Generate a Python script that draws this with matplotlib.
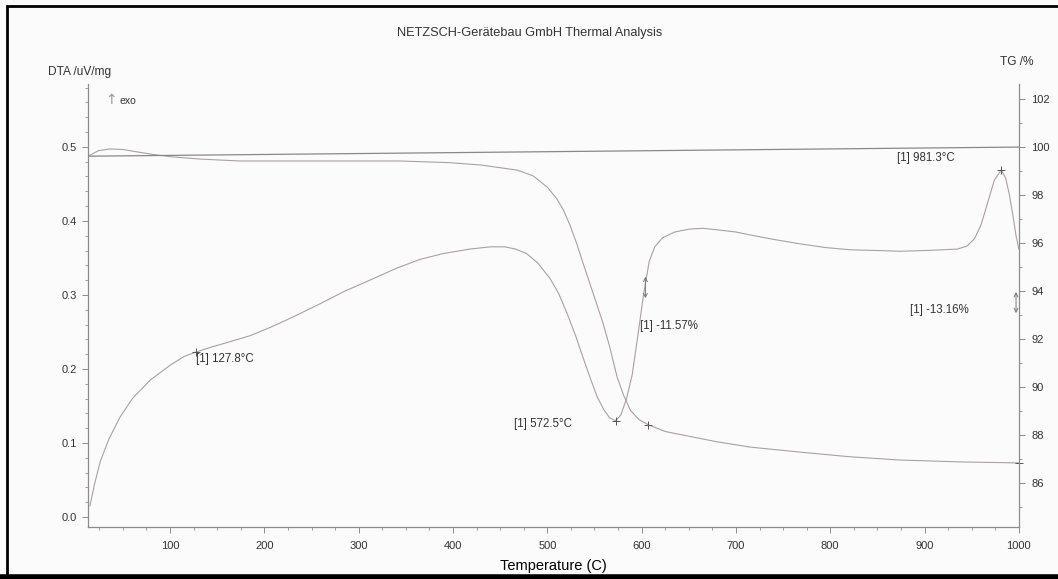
import matplotlib
matplotlib.use("Agg")
import matplotlib.pyplot as plt
from matplotlib.ticker import MultipleLocator
from matplotlib.patches import Rectangle
from matplotlib.lines import Line2D

plt.rcParams['font.family'] = ['Liberation Sans', 'DejaVu Sans']

# DTA signal (uV/mg) against temperature (C)
dta_temp = [15, 20, 26, 35, 47, 60, 79, 100, 115, 127.8, 145, 164, 185, 206, 230,
            259, 285, 312, 340, 365, 390, 418, 440, 455, 466, 478, 490, 503, 512,
            521, 530, 538, 546, 553, 560, 566, 572.5, 578, 584, 590, 596, 602, 608,
            614, 622, 635, 651, 665, 680, 700, 715, 740, 768, 795, 821, 850, 874,
            900, 920, 935, 945, 953, 960, 967, 974, 981.3, 986, 990, 994, 997, 1000]
dta_val = [0.015, 0.045, 0.075, 0.105, 0.135, 0.160, 0.185, 0.205, 0.217, 0.223,
           0.230, 0.237, 0.245, 0.256, 0.270, 0.288, 0.305, 0.320, 0.336, 0.348,
           0.356, 0.362, 0.365, 0.365, 0.362, 0.356, 0.343, 0.322, 0.302, 0.275,
           0.245, 0.215, 0.186, 0.162, 0.145, 0.134, 0.130, 0.138, 0.160, 0.192,
           0.245, 0.300, 0.345, 0.365, 0.377, 0.385, 0.389, 0.390, 0.388, 0.385,
           0.381, 0.375, 0.369, 0.364, 0.361, 0.360, 0.359, 0.360, 0.361, 0.362,
           0.366, 0.376, 0.395, 0.425, 0.455, 0.469, 0.458, 0.435, 0.405, 0.380,
           0.362]

# TG mass (%) against temperature (C)
tg_temp = [13, 24, 36, 50, 65, 79, 100, 132, 174, 238, 300, 344, 397, 430, 468,
           485, 500, 510, 517, 524, 531, 538, 545, 552, 559, 566, 574, 581, 588,
           597, 607, 625, 644, 680, 715, 768, 820, 874, 940, 1000]
tg_val = [99.62, 99.85, 99.92, 99.90, 99.80, 99.71, 99.60, 99.50, 99.42, 99.42,
          99.42, 99.42, 99.35, 99.25, 99.04, 98.80, 98.33, 97.85, 97.38, 96.75,
          96.00, 95.15, 94.33, 93.50, 92.67, 91.70, 90.42, 89.65, 89.04, 88.65,
          88.43, 88.15, 88.00, 87.72, 87.50, 87.29, 87.10, 86.96, 86.88, 86.84]

# straight reference line across the top
ref_temp = [13, 1000]
ref_val = [99.62, 100.0]

# evaluated points
dta_peaks = [127.8, 572.5, 981.3]
tg_step_temp = 607
tg_step_loss = -11.57
tg_total_loss = -13.16

curve_col = '#ad9f9f'
axis_col = '#8c8c8c'
text_col = '#333333'

fig = plt.figure(figsize=(10.58, 5.79), dpi=100, facecolor='#fbfbfb')
ax = fig.add_axes([0.0832, 0.0898, 0.8798, 0.7652])
ax.set_facecolor('none')
ax2 = ax.twinx()

ax.plot(dta_temp, dta_val, color=curve_col, lw=0.8)
ax2.plot(tg_temp, tg_val, color=curve_col, lw=0.8)
ax2.plot(ref_temp, ref_val, color='#888888', lw=0.9)

# peak markers on DTA
for t in dta_peaks:
    i = dta_temp.index(t)
    ax.plot(t, dta_val[i], marker='+', color='#555555', ms=6, mew=0.7)
ax2.plot(tg_step_temp, 100 + tg_step_loss, marker='+', color='#555555', ms=6, mew=0.7)
ax2.plot(1000, 100 + tg_total_loss, marker='+', color='#555555', ms=6, mew=0.7,
         clip_on=False)

ax.set_xlim(13, 1000)
ax.set_ylim(-0.0135, 0.585)
ax2.set_ylim(84.17, 102.63)

for s in ['top', 'right']:
    ax.spines[s].set_visible(False)
for s in ['top', 'left', 'bottom']:
    ax2.spines[s].set_visible(False)
for sp in [ax.spines['left'], ax.spines['bottom'], ax2.spines['right']]:
    sp.set_color(axis_col)
    sp.set_linewidth(0.9)

ax.xaxis.set_major_locator(MultipleLocator(100))
ax.xaxis.set_minor_locator(MultipleLocator(25))
ax.yaxis.set_major_locator(MultipleLocator(0.1))
ax.yaxis.set_minor_locator(MultipleLocator(0.02))
ax2.yaxis.set_major_locator(MultipleLocator(2))
ax2.yaxis.set_minor_locator(MultipleLocator(1))
ax.set_xticks([100, 200, 300, 400, 500, 600, 700, 800, 900, 1000])
ax.set_yticks([0.0, 0.1, 0.2, 0.3, 0.4, 0.5])
ax.set_yticklabels(['0.0', '0.1', '0.2', '0.3', '0.4', '0.5'])
ax2.set_yticks([86, 88, 90, 92, 94, 96, 98, 100, 102])

for a in [ax, ax2]:
    a.tick_params(which='major', length=4, width=0.7, color=axis_col,
                  labelsize=8, labelcolor=text_col)
    a.tick_params(which='minor', length=2.5, width=0.6, color=axis_col)
ax.tick_params(axis='x', pad=6)
ax.tick_params(axis='y', pad=4)
ax2.tick_params(axis='y', pad=5)

ax.set_xlabel('Temperature (C)', fontsize=10.5, color='black', labelpad=6)

# evaluation labels
lab = dict(fontsize=8.3, color=text_col, va='center')
ax.text(128, 0.214, '[1] 127.8°C', ha='left', **lab)
ax.text(526, 0.126, '[1] 572.5°C', ha='right', **lab)
ax.text(871, 0.485, '[1] 981.3°C', ha='left', **lab)
ax2.text(598, 92.55, f'[1] {tg_step_loss:.2f}%', ha='left', **lab)
ax2.text(885, 93.2, f'[1] {tg_total_loss:.2f}%', ha='left', **lab)

arrow_kw = dict(arrowstyle='<->', color='#777777', lw=0.7, mutation_scale=7,
                shrinkA=0, shrinkB=0)
ax2.annotate('', xy=(604, 93.7), xytext=(604, 94.6), arrowprops=arrow_kw)
ax2.annotate('', xy=(997, 93.08), xytext=(997, 93.96), arrowprops=arrow_kw,
             annotation_clip=False)

W, H = 1058, 579
fig.text(530 / W, 1 - 33 / H, 'NETZSCH-Gerätebau GmbH Thermal Analysis',
         fontsize=9.2, color=text_col, ha='center', va='center')
fig.text(48 / W, 1 - 72 / H, 'DTA /uV/mg', fontsize=8.6, color=text_col,
         ha='left', va='center')
fig.text(1000 / W, 1 - 62 / H, 'TG /%', fontsize=8.6, color=text_col,
         ha='left', va='center')
fig.text(105 / W, 1 - 100 / H, '↑', fontsize=10, color='#999999',
         ha='left', va='center', family=['DejaVu Sans'])
fig.text(120 / W, 1 - 101 / H, 'exo', fontsize=7.5, color=text_col,
         ha='left', va='center')

# page frame
fig.add_artist(Rectangle((7 / W, 1 - 576 / H), 1.2, 570 / H, transform=fig.transFigure,
                         fill=False, edgecolor='black', lw=2))
fig.add_artist(Line2D([0, 1], [1 - 577 / H, 1 - 577 / H], transform=fig.transFigure,
                      color='black', lw=4))

fig.savefig('out.png', dpi=100, facecolor=fig.get_facecolor())
